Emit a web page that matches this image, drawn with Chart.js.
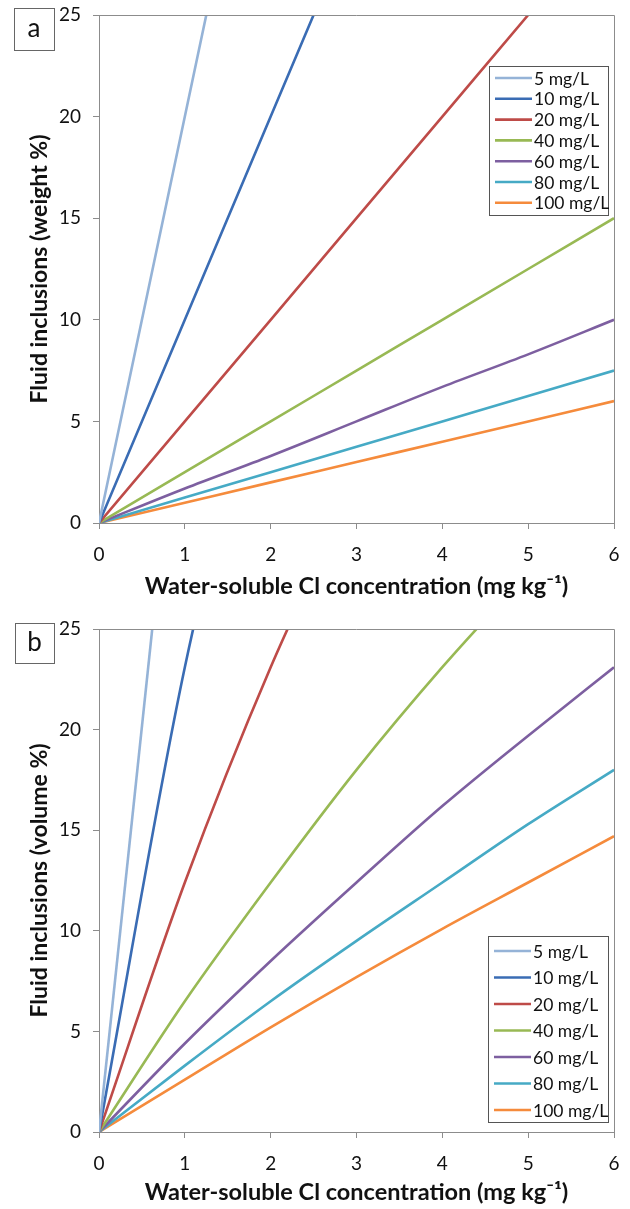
<!DOCTYPE html>
<html>
<head>
<meta charset="utf-8">
<script src="https://cdn.jsdelivr.net/npm/chart.js@4.4.0/dist/chart.umd.min.js"></script>
<style>
    body { margin: 0; background: #fff; width: 630px; height: 1209px; overflow: hidden; }
    .panel { position: absolute; left: 0; width: 630px; }
    #panelA { top: 0; height: 605px; }
    #panelB { top: 605px; height: 604px; }
</style>
</head>
<body>
<div class="panel" id="panelA"><canvas id="chartA"></canvas></div>
<div class="panel" id="panelB"><canvas id="chartB"></canvas></div>
<script>
// Cl concentration (mg/kg) where the curves have points
const clConc = [0, 1, 2, 3, 4, 5, 6];
const seriesLabels = ['5 mg/L', '10 mg/L', '20 mg/L', '40 mg/L', '60 mg/L', '80 mg/L', '100 mg/L'];
const seriesColors = ['#95b3d7', '#3a6cb4', '#be4b48', '#98b954', '#7d5fa0', '#46aac5', '#f58b3c'];
const xTicks = [0, 1, 2, 3, 4, 5, 6];
const yTicks = [0, 5, 10, 15, 20, 25];

// panel a - fluid inclusions, weight %
const weight5 = [0, 20, 40];
const weight10 = [0, 10, 20, 30];
const weight20 = [0, 5, 10, 15, 20, 25, 30];
const weight40 = [0, 2.5, 5, 7.5, 10, 12.5, 15];
const weight60 = [0, 1.7, 3.3, 5, 6.7, 8.3, 10];
const weight80 = [0, 1.25, 2.5, 3.75, 5, 6.25, 7.5];
const weight100 = [0, 1, 2, 3, 4, 5, 6];

// panel b - fluid inclusions, volume %
const volume5 = [0, 40.3];
const volume10 = [0, 23.1, 40.3];
const volume20 = [0, 12.4, 23.1, 32.3];
const volume40 = [0, 6.5, 12.4, 18.0, 23.1, 27.8];
const volume60 = [0, 4.4, 8.5, 12.4, 16.2, 19.7, 23.1];
const volume80 = [0, 3.3, 6.5, 9.5, 12.4, 15.3, 18.0];
const volume100 = [0, 2.6, 5.2, 7.7, 10.1, 12.4, 14.7];

const weightSeries = [weight5, weight10, weight20, weight40, weight60, weight80, weight100];
const volumeSeries = [volume5, volume10, volume20, volume40, volume60, volume80, volume100];

const fontFamily = 'Lato, "Open Sans", sans-serif';
const axisGrey = '#8c8c8c';

function makeDatasets(series) {
    return series.map((vals, i) => ({
        label: seriesLabels[i],
        data: vals.map((v, j) => ({ x: clConc[j], y: v })),
        borderColor: seriesColors[i],
        backgroundColor: seriesColors[i],
        borderWidth: 2.6,
        pointRadius: 0,
        cubicInterpolationMode: 'monotone',
        fill: false,
        clip: 0
    }));
}

// legend box drawn inside the plot area
const insideLegend = {
    id: 'insideLegend',
    afterDraw(chart, args, opts) {
        const { ctx, chartArea } = chart;
        const right = chartArea.right - opts.rightGap;
        const left = right - opts.width;
        const top = opts.anchor === 'top'
            ? chartArea.top + opts.gap
            : chartArea.bottom - opts.gap - opts.height;
        ctx.save();
        ctx.fillStyle = '#fff';
        ctx.fillRect(left, top, opts.width, opts.height);
        ctx.strokeStyle = '#555';
        ctx.lineWidth = 1;
        ctx.strokeRect(Math.round(left) + 0.5, Math.round(top) + 0.5, opts.width, opts.height);
        ctx.font = '17.5px ' + fontFamily;
        ctx.textBaseline = 'middle';
        ctx.fillStyle = '#111';
        chart.data.datasets.forEach((ds, i) => {
            const y = top + opts.firstRow + i * opts.rowGap;
            ctx.strokeStyle = ds.borderColor;
            ctx.lineWidth = 2.6;
            ctx.beginPath();
            ctx.moveTo(left + 6, y);
            ctx.lineTo(left + 43, y);
            ctx.stroke();
            ctx.fillText(ds.label, left + 45, y + 1);
        });
        ctx.restore();
    }
};

// top/right frame of the plot + panel letter
const frameAndTag = {
    id: 'frameAndTag',
    afterDraw(chart, args, opts) {
        const { ctx, chartArea } = chart;
        ctx.save();
        ctx.strokeStyle = axisGrey;
        ctx.lineWidth = 1;
        ctx.beginPath();
        ctx.moveTo(chartArea.left, chartArea.top + 0.5);
        ctx.lineTo(chartArea.right + 0.5, chartArea.top + 0.5);
        ctx.lineTo(chartArea.right + 0.5, chartArea.bottom);
        ctx.stroke();
        const b = opts.box;
        ctx.strokeStyle = '#666';
        ctx.strokeRect(b[0] + 0.5, b[1] + 0.5, b[2], b[3]);
        ctx.fillStyle = '#111';
        ctx.font = '26px ' + fontFamily;
        ctx.textAlign = 'center';
        ctx.textBaseline = 'middle';
        ctx.fillText(opts.tag, b[0] + b[2] / 2, b[1] + b[3] / 2);
        ctx.restore();
    }
};

function makeChart(canvasId, series, yTitle, cfg) {
    const ctx = document.getElementById(canvasId).getContext('2d');
    return new Chart(ctx, {
        type: 'line',
        data: { datasets: makeDatasets(series) },
        plugins: [insideLegend, frameAndTag],
        options: {
            responsive: true,
            maintainAspectRatio: false,
            animation: false,
            devicePixelRatio: 1,
            layout: { padding: { left: 0, right: 16, top: cfg.top, bottom: 0 } },
            plugins: {
                legend: { display: false },
                tooltip: { enabled: false },
                insideLegend: cfg.legend,
                frameAndTag: { tag: cfg.tag, box: cfg.box }
            },
            scales: {
                x: {
                    type: 'linear',
                    min: 0,
                    max: 6,
                    afterBuildTicks: (s) => { s.ticks = xTicks.map(v => ({ value: v })); },
                    afterFit: (s) => {
                        s.height = cfg.xHeight;
                        s.paddingLeft = 0;
                        s.paddingRight = 0;
                    },
                    grid: { drawOnChartArea: false, tickLength: 6, color: axisGrey },
                    border: { color: axisGrey },
                    ticks: { color: '#111', padding: 14, font: { family: fontFamily, size: 19 } },
                    title: {
                        display: true,
                        text: 'Water-soluble Cl concentration (mg kg\u207B\u00B9)',
                        color: '#111',
                        padding: { top: 0, bottom: cfg.xTitlePad },
                        font: { family: fontFamily, size: 23.5, weight: 'bold' }
                    }
                },
                y: {
                    min: 0,
                    max: 25,
                    afterBuildTicks: (s) => { s.ticks = yTicks.map(v => ({ value: v })); },
                    afterFit: (s) => {
                        s.width = 99;
                        s.paddingTop = 0;
                        s.paddingBottom = 0;
                    },
                    grid: { drawOnChartArea: false, tickLength: 6, color: axisGrey },
                    border: { color: axisGrey },
                    ticks: { color: '#111', padding: 12, font: { family: fontFamily, size: 19 } },
                    title: {
                        display: true,
                        text: yTitle,
                        color: '#111',
                        padding: { top: 26, bottom: 0 },
                        font: { family: fontFamily, size: 23, weight: 'bold' }
                    }
                }
            }
        }
    });
}

makeChart('chartA', weightSeries, 'Fluid inclusions (weight %)', {
    top: 15,
    xHeight: 82,
    xTitlePad: 4,
    tag: 'a',
    box: [14, 8, 40, 42],
    legend: { anchor: 'top', gap: 51, rightGap: 6, width: 119, height: 149, firstRow: 12, rowGap: 20.8 }
});

makeChart('chartB', volumeSeries, 'Fluid inclusions (volume %)', {
    top: 24,
    xHeight: 77,
    xTitlePad: 2,
    tag: 'b',
    box: [15, 18, 39, 40],
    legend: { anchor: 'bottom', gap: 10, rightGap: 6, width: 120, height: 186, firstRow: 15, rowGap: 26.5 }
});
</script>
</body>
</html>
